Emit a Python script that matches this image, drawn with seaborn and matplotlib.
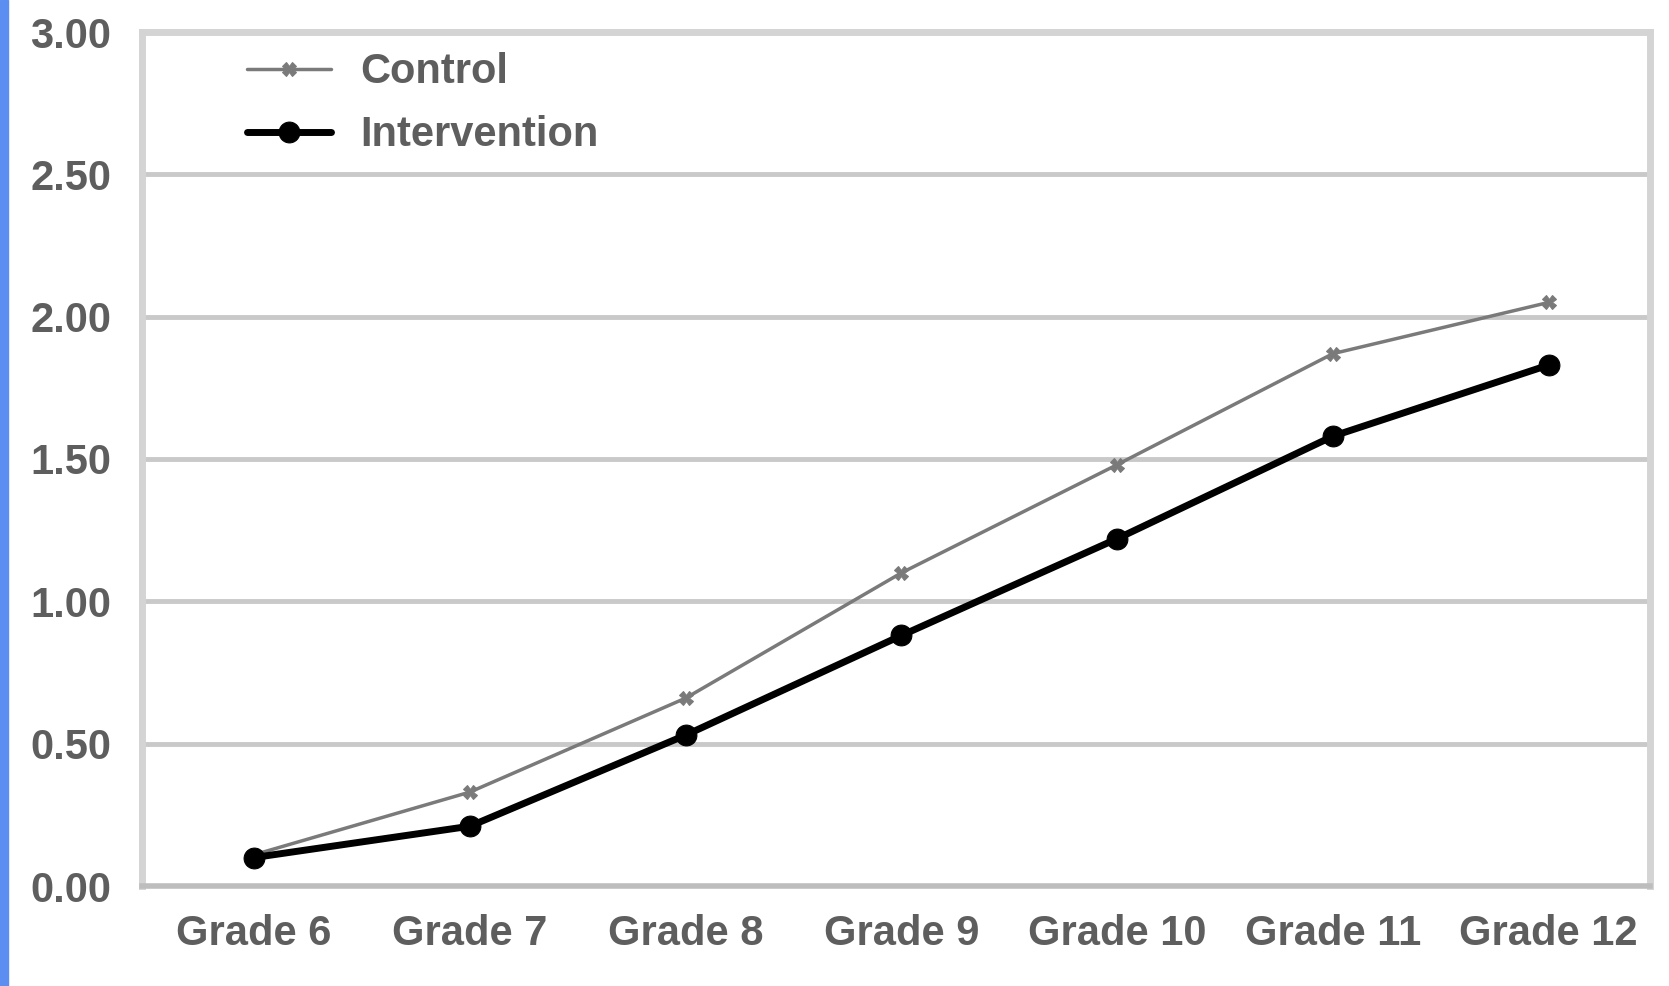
import matplotlib
matplotlib.use("Agg")
import matplotlib.pyplot as plt
import seaborn as sns
import pandas as pd
from matplotlib.patches import Rectangle

# data
grades = ["Grade 6", "Grade 7", "Grade 8", "Grade 9", "Grade 10", "Grade 11", "Grade 12"]
control = [0.11, 0.33, 0.66, 1.10, 1.48, 1.87, 2.05]
intervention = [0.10, 0.21, 0.53, 0.88, 1.22, 1.58, 1.83]
y_ticks = [0.0, 0.5, 1.0, 1.5, 2.0, 2.5, 3.0]

df = pd.DataFrame({"grade": grades, "Control": control, "Intervention": intervention})

sns.set_theme(style="white")
plt.rcParams["font.family"] = ["Liberation Sans", "DejaVu Sans"]

fig = plt.figure(figsize=(16.69, 9.86), dpi=100)
ax = fig.add_axes([142 / 1669, 1 - 886 / 986, (1650 - 142) / 1669, (886 - 32) / 986])

# horizontal grid
for yv in y_ticks[1:-1]:
    ax.axhline(yv, color="#c9c9c9", lw=3.5, zorder=0)

sns.lineplot(data=df, x="grade", y="Control", ax=ax, color="#7a7a7a", lw=2.5,
             marker="X", markersize=10, markeredgecolor="#7a7a7a", label="Control", sort=False)
sns.lineplot(data=df, x="grade", y="Intervention", ax=ax, color="black", lw=5,
             marker="o", markersize=15, markeredgecolor="black", label="Intervention", sort=False)

ax.set_xlim(-0.52, 6.47)
ax.set_ylim(0, 3.0)
ax.set_yticks(y_ticks)
ax.set_yticklabels([f"{v:.2f}" for v in y_ticks])
ax.set_xlabel("")
ax.set_ylabel("")
ax.tick_params(axis="both", length=0, labelsize=30, labelcolor="#5e5e5e")
ax.tick_params(axis="y", pad=22)
ax.tick_params(axis="x", pad=20)
for lbl in ax.get_xticklabels() + ax.get_yticklabels():
    lbl.set_fontweight("bold")

for side in ["left", "right", "top"]:
    ax.spines[side].set_color("#d4d4d4")
    ax.spines[side].set_linewidth(5)
ax.spines["bottom"].set_color("#bdbdbd")
ax.spines["bottom"].set_linewidth(4)
ax.spines["bottom"].set_linestyle((0, (2, 1)))

leg = ax.legend(loc="upper left", frameon=False, fontsize=30, handlelength=2.0,
                bbox_to_anchor=(0.045, 1.02), labelspacing=0.55, handletextpad=0.7)
for t in leg.get_texts():
    t.set_color("#5e5e5e")
    t.set_fontweight("bold")

# blue strip on the left edge
fig.add_artist(Rectangle((0, 0), 8 / 1669, 1, transform=fig.transFigure,
                         color="#5b8ef0", zorder=0))

fig.savefig("out.png", dpi=100)
